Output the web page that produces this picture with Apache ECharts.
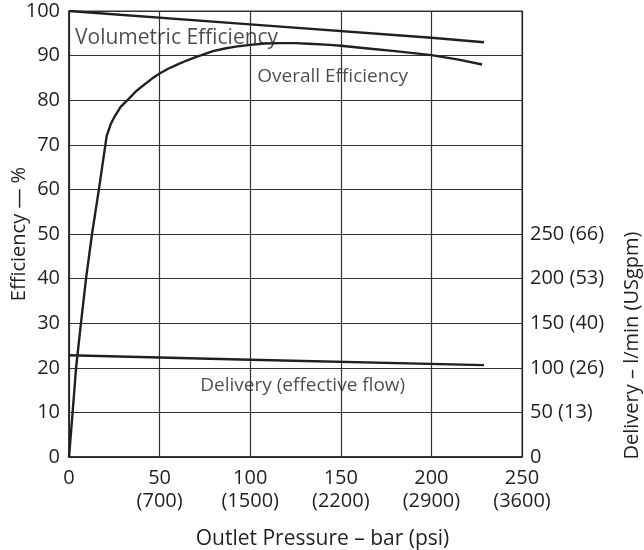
<!DOCTYPE html>
<html>
<head>
<meta charset="utf-8">
<script src="https://cdn.jsdelivr.net/npm/echarts@6/dist/echarts.min.js"></script>
<style>html,body{margin:0;padding:0;background:#fff}#c{width:644px;height:550px}</style>
</head>
<body>
<div id="c"></div>
<script>
// ---- data ----
const barTicks = [0, 50, 100, 150, 200, 250];
const psiTicks = ['', '(700)', '(1500)', '(2200)', '(2900)', '(3600)'];
const flowTicks = [0, 50, 100, 150, 200, 250];
const gpmTicks = ['', '(13)', '(26)', '(40)', '(53)', '(66)'];

const overallPressure = [0, 2, 3.9, 6.6, 9.4, 12.7, 16.5, 20.8, 23, 25.4, 28.5, 32.7, 37, 41.9, 46, 50, 55, 60.3, 65, 69.5, 79.5, 86, 92, 100, 108, 116, 125, 135, 144, 150, 165, 180, 200, 215, 228];
const overallEff      = [0, 10, 20, 30, 40, 50, 60, 72, 74.6, 76.5, 78.5, 80.2, 82, 83.6, 84.9, 86.0, 87.1, 88.1, 88.9, 89.6, 91.0, 91.6, 92.0, 92.4, 92.7, 92.8, 92.8, 92.6, 92.4, 92.2, 91.6, 91.0, 90.1, 89.1, 88.0];

const volPressure = [0, 100, 200, 229];
const volEff      = [100, 97.0, 94.0, 93.0];

const delPressure = [0, 100, 229];
const delFlow     = [114, 109, 103];   // l/min

const annotations = [
  { text: 'Volumetric Efficiency', x: 3.3, y: 94.0, align: 'left', size: 21 },
  { text: 'Overall Efficiency', x: 145.5, y: 85.3, align: 'center', size: 19 },
  { text: 'Delivery (effective flow)', x: 129, y: 15.9, align: 'center', size: 19 }
];

const xTitle = 'Outlet Pressure – bar (psi)';
const yTitle = 'Efficiency — %';
const y2Title = 'Delivery – l/min (USgpm)';

// ---- chart ----
const FONT = 'Open Sans';
const FS = 20;
const INK = '#231f20';
const zip = (a, b) => a.map((v, i) => [v, b[i]]);

const chart = echarts.init(document.getElementById('c'), null, { renderer: 'canvas' });
const option = {
  animation: false,
  textStyle: { fontFamily: FONT, color: INK },
  grid: { left: 69, right: 122, top: 11, bottom: 93, show: true, borderColor: '#333', borderWidth: 1,
          containLabel: false, outerBoundsMode: 'none' },
  xAxis: {
    type: 'value', min: 0, max: 250, interval: 50,
    axisLine: { show: true, lineStyle: { color: INK, width: 1.5 } },
    axisTick: { show: false },
    splitLine: { show: true, lineStyle: { color: '#333', width: 1.2 } },
    axisLabel: {
      fontFamily: FONT, fontSize: FS, color: INK, margin: 10, lineHeight: 23,
      formatter: v => { const i = barTicks.indexOf(v); return i < 0 ? '' : (psiTicks[i] ? v + '\n' + psiTicks[i] : String(v)); }
    },
    name: xTitle, nameLocation: 'middle', nameGap: 72,
    nameTextStyle: { fontFamily: FONT, fontSize: 21, color: INK, padding: [0, 0, 0, 54] }
  },
  yAxis: [{
    type: 'value', min: 0, max: 100, interval: 10,
    axisLine: { show: true, lineStyle: { color: INK, width: 1.5 } },
    axisTick: { show: false },
    splitLine: { show: true, lineStyle: { color: '#333', width: 1.2 } },
    axisLabel: { fontFamily: FONT, fontSize: FS, color: INK, margin: 9, padding: [7, 0, 0, 0] },
    name: yTitle, nameLocation: 'middle', nameGap: 40, nameMoveOverlap: false,
    nameTextStyle: { fontFamily: FONT, fontSize: FS, color: INK }
  }, {
    type: 'value', min: 0, max: 500, interval: 50, position: 'right',
    axisLine: { show: true, lineStyle: { color: INK, width: 1 } },
    axisTick: { show: false },
    splitLine: { show: false },
    axisLabel: {
      fontFamily: FONT, fontSize: FS, color: INK, margin: 8, padding: [10, 0, 0, 0],
      formatter: v => { const i = flowTicks.indexOf(v); return i < 0 ? '' : (gpmTicks[i] ? v + ' ' + gpmTicks[i] : String(v)); }
    }
  }],
  series: [
    { type: 'line', name: 'Overall', data: zip(overallPressure, overallEff), showSymbol: false, smooth: false,
      lineStyle: { color: INK, width: 2.4 } },
    { type: 'line', name: 'Volumetric', data: zip(volPressure, volEff), showSymbol: false,
      lineStyle: { color: INK, width: 2.4 } },
    { type: 'line', name: 'Delivery', yAxisIndex: 1, data: zip(delPressure, delFlow), showSymbol: false,
      lineStyle: { color: INK, width: 2.4 } },
    { type: 'scatter', name: 'labels', symbolSize: 0, silent: true,
      data: annotations.map(a => ({
        value: [a.x, a.y],
        label: { show: true, formatter: a.text, position: a.align === 'left' ? 'right' : 'inside', distance: 0,
                 fontFamily: FONT, fontSize: a.size, color: INK }
      }))
    }
  ],
  graphic: []
};
chart.setOption(option);

// right axis title, centred on the labelled part (0–250) of the delivery axis
const p = chart.convertToPixel({ xAxisIndex: 0, yAxisIndex: 1 }, [250, 125]);
chart.setOption({
  graphic: [{
    type: 'text', x: p[0] + 110, y: p[1], rotation: Math.PI / 2,
    style: { text: y2Title, fontFamily: FONT, fontSize: FS, fill: INK, align: 'center', verticalAlign: 'middle' }
  }]
});
</script>
</body>
</html>
